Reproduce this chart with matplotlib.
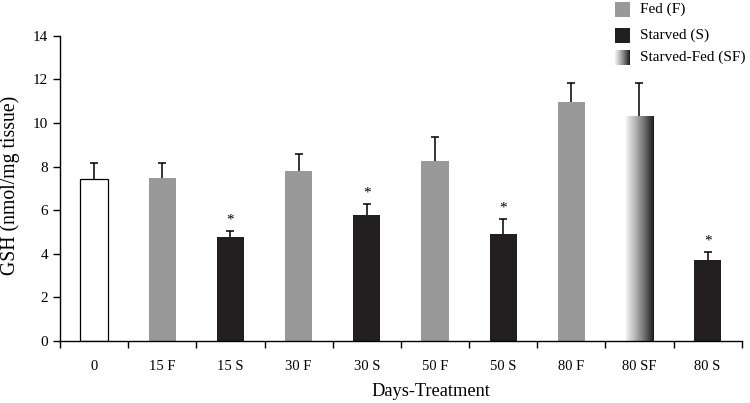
import numpy as np
import matplotlib
matplotlib.use("Agg")
from matplotlib import pyplot as plt
from matplotlib.patches import Rectangle

plt.rcParams['font.family'] = ['Liberation Serif', 'DejaVu Serif']

# data
labels = ['0', '15 F', '15 S', '30 F', '30 S', '50 F', '50 S', '80 F', '80 SF', '80 S']
values = [7.45, 7.5, 4.75, 7.8, 5.8, 8.25, 4.9, 10.95, 10.3, 3.7]
errors = [0.7, 0.65, 0.3, 0.8, 0.5, 1.1, 0.7, 0.9, 1.55, 0.4]
groups = ['C', 'F', 'S', 'F', 'S', 'F', 'S', 'F', 'SF', 'S']
signif = [False, False, True, False, True, False, True, False, False, True]

FED = '#999999'
STARVED = '#231f20'
colors = {'C': 'white', 'F': FED, 'S': STARVED, 'SF': 'none'}
grad_cmap = matplotlib.colors.LinearSegmentedColormap.from_list(
    'sf', ['#f2f2f2', '#b5b5b5', '#6e6e6e', '#1a1a1a'])

fig = plt.figure(figsize=(7.5, 4.03), dpi=100)
ax = fig.add_axes([0.08, 0.154, 0.909, 0.757])

x = np.arange(len(labels))
w = 0.4
for xi, v, e, g, s in zip(x, values, errors, groups, signif):
    ec = 'black' if g == 'C' else 'none'
    ax.bar(xi, v, w, color=colors[g], edgecolor=ec, linewidth=0.9, zorder=2)
    if g == 'SF':
        grad = np.linspace(0, 1, 256).reshape(1, -1)
        ax.imshow(grad, cmap=grad_cmap, aspect='auto', zorder=2,
                  extent=(xi - w / 2, xi + w / 2, 0, v))
    eb = ax.errorbar(xi, v, yerr=[[0], [e]], fmt='none', ecolor='black',
                     elinewidth=1.1, capsize=2.6, capthick=1.1, zorder=1)
    eb.lines[1][0].set_visible(False)  # only the upper cap
    if s:
        ax.text(xi, v + e + 0.2, '*', ha='center', va='bottom', fontsize=11)

ax.set_xlim(-0.5, len(labels) - 0.5)
ax.set_ylim(0, 14)
ax.set_yticks(np.arange(0, 15, 2))
ax.set_xticks(x)
ax.set_xticklabels(labels, fontsize=10.5)
ax.set_xticks(np.arange(-0.5, len(labels), 1), minor=True)
ax.tick_params(axis='x', which='major', length=0, pad=14)
ax.tick_params(axis='x', which='minor', length=5, width=1, direction='out')
ax.tick_params(axis='y', length=5, width=1, direction='out', labelsize=11)
ax.spines['top'].set_visible(False)
ax.spines['right'].set_visible(False)
for sp in ('left', 'bottom'):
    ax.spines[sp].set_linewidth(1)
ax.set_xlabel('Days-Treatment', fontsize=13.2, va='center')
ax.xaxis.set_label_coords(0.544, -0.167)
ax.set_ylabel('GSH (nmol/mg tissue)', fontsize=14.2, va='center')
ax.yaxis.set_label_coords(-0.073, 0.51)

# legend drawn in figure pixels
def px(xp, yp):
    return xp / 750, 1 - yp / 403

leg = [('Fed (F)', FED, 2), ('Starved (S)', STARVED, 28), ('Starved-Fed (SF)', None, 50)]
for text, col, top in leg:
    x0, y1 = px(615, top)
    wf, hf = 15 / 750, 15 / 403
    if col is None:
        lax = fig.add_axes([x0, y1 - hf, wf, hf])
        lax.imshow(np.linspace(0, 1, 64).reshape(1, -1), cmap=grad_cmap, aspect='auto')
        lax.axis('off')
    else:
        fig.patches.append(Rectangle((x0, y1 - hf), wf, hf, transform=fig.transFigure,
                                     facecolor=col, edgecolor='none'))
    fig.text(px(640, 0)[0], y1 - hf / 2, text, ha='left', va='center', fontsize=11)

fig.savefig('out.png', dpi=100)
